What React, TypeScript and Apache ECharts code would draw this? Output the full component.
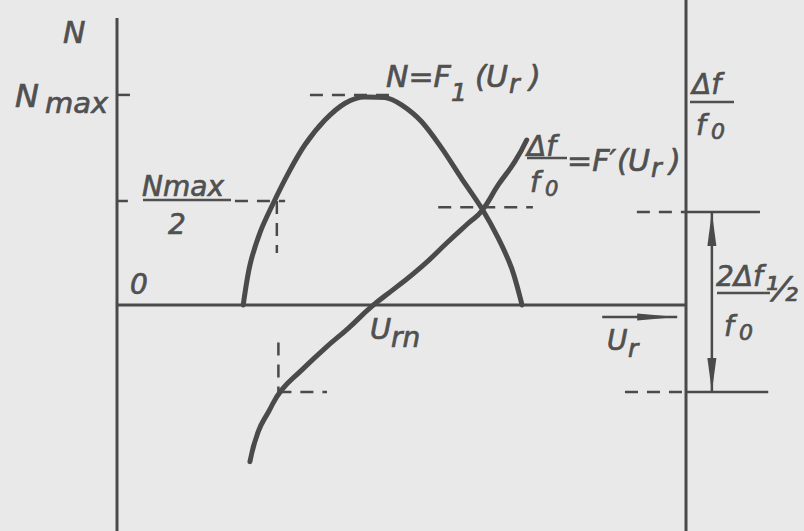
import React, { useEffect, useRef } from "react";
import * as echarts from "echarts";

const W = 804;
const H = 531;
const BG = "#e9e9e9";
const INK = "#4a4a4a";
const TEXT = "#505050";
const FONT = '"DejaVu Sans", "Liberation Sans", sans-serif';

// Axis ranges: the left axis sits at Ur = 0, the right axis at Ur = 11,
// N is normalised so that Nmax = 100.
const UR_MIN = -2.262;
const UR_MAX = 13.281;
const Y_MIN = -108.65;
const Y_MAX = 146.63;
const UR_END = 11;

// N = F1(Ur)
const urN = [2.44, 2.57, 2.77, 3.02, 3.31, 3.63, 4.02, 4.41, 4.79, 5.18, 5.5, 5.89, 6.28, 6.66, 7.05, 7.37, 7.63, 7.83];
const nCurve = [0, 19.2, 35.2, 48.9, 63.3, 76.9, 88.9, 97.0, 100, 99.7, 96.2, 88.1, 75.3, 60.9, 46.5, 32.1, 17.6, 0];

// Δf/f0 = F'(Ur)
const urDf = [2.57, 2.73, 2.93, 3.18, 3.57, 4.02, 4.47, 4.92, 5.37, 5.89, 6.4, 6.79, 7.05, 7.37, 7.69, 7.92];
const dfCurve = [-75.3, -60.9, -51.3, -40.9, -31.3, -20.8, -11.2, -0.8, 8.0, 18.4, 30.4, 39.3, 45.2, 57.7, 68.9, 79.3];

// Levels
const N_MAX = 100;
const N_HALF = 50;
const DF_CROSS = 47;
const DF_TOP = 44.7;
const DF_BOTTOM = -41.8;
const UR_HALF_LEFT = 3.09;
const UR_DF_LOW = 3.12;

// Segments: [x1, y1, x2, y2, kind]  kind 0 = axis, 1 = dashed guide, 2 = thin solid
const segments: number[][] = [
  [0, 138, 0, Y_MIN, 0],
  [UR_END, Y_MAX, UR_END, Y_MIN, 0],
  [0, 0, UR_END, 0, 0],
  [0, N_MAX + 1, 0.25, N_MAX + 1, 2],
  [3.73, N_MAX + 1, 5.33, N_MAX + 1, 1],
  [0, N_HALF, 0.21, N_HALF, 2],
  [2.28, N_HALF, 3.25, N_HALF, 1],
  [UR_HALF_LEFT, N_HALF, UR_HALF_LEFT, 25, 1],
  [6.21, DF_CROSS, 8.04, DF_CROSS, 1],
  [UR_DF_LOW, -18, UR_DF_LOW, DF_BOTTOM, 1],
  [UR_DF_LOW, DF_BOTTOM, 4.06, DF_BOTTOM, 1],
  [10.05, DF_TOP, UR_END, DF_TOP, 1],
  [UR_END, DF_TOP, 12.43, DF_TOP, 2],
  [9.82, DF_BOTTOM, UR_END, DF_BOTTOM, 1],
  [UR_END, DF_BOTTOM, 12.59, DF_BOTTOM, 2],
];

// Arrows: [x1, y1, x2, y2, headLength, headWidth, doubleHeaded]
const arrows: number[][] = [
  [11.5, DF_TOP, 11.5, DF_BOTTOM, 34, 9, 1],
  [9.38, -5.77, 10.83, -5.77, 40, 7, 0],
];

function head(tip: number[], from: number[], len: number, w: number) {
  const dx = tip[0] - from[0];
  const dy = tip[1] - from[1];
  const L = Math.hypot(dx, dy) || 1;
  const ux = dx / L;
  const uy = dy / L;
  const bx = tip[0] - ux * len;
  const by = tip[1] - uy * len;
  return {
    type: "polygon",
    shape: {
      points: [
        [tip[0], tip[1]],
        [bx - (uy * w) / 2, by + (ux * w) / 2],
        [bx + (uy * w) / 2, by - (ux * w) / 2],
      ],
    },
    style: { fill: INK },
  };
}

function txt(text: string, x: number, yc: number, size = 30) {
  return {
    type: "text",
    x,
    y: yc,
    silent: true,
    style: {
      text,
      fill: TEXT,
      stroke: TEXT,
      lineWidth: 0.7,
      font: `italic ${size}px ${FONT}`,
      align: "left",
      verticalAlign: "middle",
    },
  };
}

function bar(x1: number, x2: number, y: number) {
  return {
    type: "line",
    silent: true,
    shape: { x1, y1: y, x2, y2: y },
    style: { stroke: TEXT, lineWidth: 2.5 },
  };
}

const labels = [
  txt("N", 63, 32),
  txt("N", 15, 96, 32),
  txt("max", 45, 103, 29),
  txt("Nmax", 142, 186, 28),
  bar(143, 231, 200),
  txt("2", 168, 224, 28),
  txt("0", 130, 284, 28),
  txt("U", 370, 329, 29),
  txt("rn", 391, 337, 28),
  txt("N=F", 386, 76),
  txt("1", 451, 92, 25),
  txt("(", 475, 76),
  txt("U", 486, 76),
  txt("r", 509, 84, 26),
  txt(")", 529, 76),
  txt("Δf", 527, 146, 28),
  bar(527, 567, 158),
  txt("f", 530, 182, 28),
  txt("0", 545, 189, 21),
  txt("=F′", 567, 160),
  txt("(", 617, 160),
  txt("U", 628, 160),
  txt("r", 651, 168, 26),
  txt(")", 669, 160),
  txt("Δf", 692, 84, 28),
  bar(690, 734, 102),
  txt("f", 696, 125, 28),
  txt("0", 711, 131, 22),
  txt("2Δf", 716, 276, 28),
  txt("½", 765, 289, 34),
  bar(717, 770, 293),
  txt("f", 724, 326, 28),
  txt("0", 739, 332, 22),
  txt("U", 607, 340, 28),
  txt("r", 628, 348, 25),
];

const option = {
  animation: false,
  backgroundColor: BG,
  grid: { left: 0, right: 0, top: 0, bottom: 0 },
  xAxis: { type: "value", min: UR_MIN, max: UR_MAX, show: false },
  yAxis: { type: "value", min: Y_MIN, max: Y_MAX, show: false },
  series: [
    {
      type: "custom",
      name: "guides",
      silent: true,
      encode: { x: [0, 2], y: [1, 3] },
      data: segments,
      renderItem: (_p: any, api: any) => {
        const a = api.coord([api.value(0), api.value(1)]);
        const b = api.coord([api.value(2), api.value(3)]);
        const kind = api.value(4);
        return {
          type: "line",
          shape: { x1: a[0], y1: a[1], x2: b[0], y2: b[1] },
          style: {
            stroke: INK,
            lineWidth: kind === 0 ? 3 : 2.5,
            lineDash: kind === 1 ? [13, 9] : null,
          },
        };
      },
    },
    {
      type: "custom",
      name: "arrows",
      silent: true,
      encode: { x: [0, 2], y: [1, 3] },
      data: arrows,
      renderItem: (_p: any, api: any) => {
        const a = api.coord([api.value(0), api.value(1)]);
        const b = api.coord([api.value(2), api.value(3)]);
        const len = api.value(4);
        const w = api.value(5);
        const both = api.value(6) === 1;
        const children: any[] = [
          {
            type: "line",
            shape: { x1: a[0], y1: a[1], x2: b[0], y2: b[1] },
            style: { stroke: INK, lineWidth: 2.5 },
          },
          head(b, a, len, w),
        ];
        if (both) children.push(head(a, b, len, w));
        return { type: "group", children };
      },
    },
    {
      type: "line",
      name: "N = F1(Ur)",
      data: urN.map((u, i) => [u, nCurve[i]]),
      smooth: 0.3,
      showSymbol: false,
      silent: true,
      lineStyle: { color: INK, width: 5, cap: "round" },
    },
    {
      type: "line",
      name: "Δf/f0 = F'(Ur)",
      data: urDf.map((u, i) => [u, dfCurve[i]]),
      smooth: 0.5,
      showSymbol: false,
      silent: true,
      lineStyle: { color: INK, width: 5, cap: "round" },
    },
  ],
  graphic: labels,
};

export default function App() {
  const ref = useRef<HTMLDivElement>(null);
  useEffect(() => {
    const el = ref.current;
    if (!el) return;
    const chart = echarts.init(el, null, { renderer: "svg" });
    chart.setOption(option as any);
    return () => chart.dispose();
  }, []);
  return (
    <div
      ref={ref}
      style={{ position: "fixed", left: 0, top: 0, width: W, height: H, background: BG }}
    />
  );
}
